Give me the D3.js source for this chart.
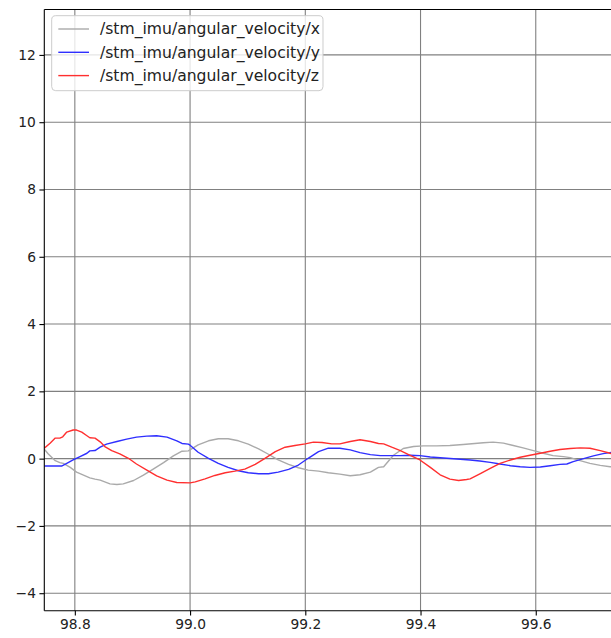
<!DOCTYPE html>
<html>
<head>
<meta charset="utf-8">
<script src="https://cdn.jsdelivr.net/npm/d3@7"></script>
<style>
  body { margin: 0; background: #fff; }
  svg { display: block; font-family: "DejaVu Sans", sans-serif; }
</style>
</head>
<body>
<svg id="chart"></svg>
<script>
// series names (legend)
var seriesNames = ["/stm_imu/angular_velocity/x", "/stm_imu/angular_velocity/y", "/stm_imu/angular_velocity/z"]

// angular velocity x (gray)
var timeX = [98.747, 98.754, 98.766, 98.774, 98.780, 98.792, 98.803, 98.815, 98.826, 98.835, 98.844, 98.861, 98.873, 98.884, 98.902, 98.919, 98.936, 98.954, 98.971, 98.986, 98.997, 99.014, 99.032, 99.049, 99.066, 99.084, 99.101, 99.119, 99.136, 99.153, 99.171, 99.188, 99.205, 99.223, 99.240, 99.260, 99.278, 99.295, 99.313, 99.327, 99.336, 99.353, 99.370, 99.388, 99.405, 99.428, 99.451, 99.474, 99.509, 99.526, 99.544, 99.561, 99.578, 99.596, 99.613, 99.630, 99.648, 99.660, 99.677, 99.694, 99.712, 99.729, 99.745]
var valX = [0.28, 0.14, -0.06, -0.12, -0.14, -0.26, -0.40, -0.49, -0.57, -0.61, -0.64, -0.75, -0.77, -0.75, -0.65, -0.49, -0.31, -0.12, 0.08, 0.22, 0.23, 0.41, 0.53, 0.59, 0.59, 0.53, 0.43, 0.29, 0.13, -0.04, -0.17, -0.27, -0.34, -0.37, -0.42, -0.46, -0.51, -0.48, -0.40, -0.26, -0.24, 0.10, 0.30, 0.36, 0.38, 0.38, 0.39, 0.42, 0.47, 0.49, 0.46, 0.39, 0.32, 0.24, 0.16, 0.09, 0.06, 0.03, -0.06, -0.14, -0.20, -0.24, -0.27]

// angular velocity y (blue)
var timeY = [98.747, 98.777, 98.786, 98.797, 98.809, 98.821, 98.826, 98.835, 98.844, 98.855, 98.873, 98.890, 98.907, 98.925, 98.942, 98.960, 98.977, 98.986, 98.997, 99.000, 99.014, 99.032, 99.049, 99.066, 99.084, 99.101, 99.119, 99.136, 99.153, 99.171, 99.188, 99.205, 99.223, 99.240, 99.260, 99.278, 99.295, 99.313, 99.330, 99.365, 99.382, 99.399, 99.417, 99.440, 99.463, 99.486, 99.503, 99.521, 99.538, 99.556, 99.573, 99.590, 99.608, 99.625, 99.642, 99.654, 99.665, 99.683, 99.700, 99.717, 99.729, 99.745]
var valY = [-0.22, -0.22, -0.14, -0.04, 0.06, 0.16, 0.23, 0.24, 0.34, 0.43, 0.51, 0.58, 0.64, 0.67, 0.68, 0.64, 0.53, 0.45, 0.43, 0.40, 0.19, 0.01, -0.14, -0.26, -0.36, -0.42, -0.45, -0.45, -0.40, -0.32, -0.19, 0.01, 0.21, 0.31, 0.31, 0.26, 0.18, 0.12, 0.09, 0.09, 0.10, 0.09, 0.05, 0.02, -0.01, -0.04, -0.07, -0.11, -0.16, -0.21, -0.24, -0.26, -0.25, -0.21, -0.17, -0.16, -0.09, 0.00, 0.08, 0.15, 0.18, 0.20]

// angular velocity z (red)
var timeZ = [98.747, 98.757, 98.766, 98.774, 98.779, 98.786, 98.797, 98.803, 98.812, 98.821, 98.826, 98.835, 98.844, 98.852, 98.864, 98.878, 98.893, 98.907, 98.925, 98.942, 98.960, 98.977, 99.000, 99.009, 99.026, 99.043, 99.061, 99.078, 99.095, 99.113, 99.130, 99.148, 99.165, 99.182, 99.200, 99.214, 99.229, 99.246, 99.260, 99.278, 99.295, 99.313, 99.327, 99.336, 99.350, 99.365, 99.382, 99.399, 99.417, 99.434, 99.451, 99.466, 99.480, 99.486, 99.503, 99.521, 99.538, 99.556, 99.573, 99.590, 99.608, 99.625, 99.642, 99.660, 99.677, 99.694, 99.712, 99.729, 99.745]
var valZ = [0.31, 0.46, 0.61, 0.61, 0.65, 0.79, 0.85, 0.85, 0.79, 0.68, 0.62, 0.61, 0.50, 0.36, 0.24, 0.14, 0.01, -0.16, -0.34, -0.51, -0.64, -0.71, -0.72, -0.69, -0.60, -0.50, -0.42, -0.37, -0.31, -0.17, 0.01, 0.21, 0.34, 0.39, 0.44, 0.49, 0.48, 0.44, 0.44, 0.51, 0.56, 0.51, 0.45, 0.44, 0.34, 0.24, 0.10, -0.04, -0.26, -0.48, -0.61, -0.65, -0.62, -0.60, -0.45, -0.29, -0.14, -0.04, 0.04, 0.10, 0.16, 0.22, 0.27, 0.30, 0.32, 0.31, 0.24, 0.16, 0.10]

var xTicks = [98.8, 99.0, 99.2, 99.4, 99.6]
var yTicks = [-4, -2, 0, 2, 4, 6, 8, 10, 12]

var dimensions = {
    width: 611,
    height: 638,
    margin: { top: 9.5, bottom: 27.3, left: 44.3, right: -6 }
}

var colors = ["#aaaaaa", "#2f2fff", "#ff2f2f"]

var svg = d3.select("#chart")
    .attr("width", dimensions.width)
    .attr("height", dimensions.height)

var xScale = d3.scaleLinear()
    .domain([98.747, 99.741])
    .range([dimensions.margin.left, dimensions.width - dimensions.margin.right])

var yScale = d3.scaleLinear()
    .domain([-4.52, 13.35])
    .range([dimensions.height - dimensions.margin.bottom, dimensions.margin.top])

var x0 = xScale.range()[0], x1 = xScale.range()[1]
var y0 = yScale.range()[0], y1 = yScale.range()[1]

svg.append("clipPath").attr("id", "plotclip")
    .append("rect")
    .attr("x", x0).attr("y", y1)
    .attr("width", x1 - x0).attr("height", y0 - y1)

// grid
var grid = svg.append("g").attr("stroke", "#808080").attr("stroke-width", 1.1)
grid.selectAll(".vg").data(xTicks).enter().append("line")
    .attr("x1", d => xScale(d)).attr("x2", d => xScale(d))
    .attr("y1", y1).attr("y2", y0)
grid.selectAll(".hg").data(yTicks).enter().append("line")
    .attr("x1", x0).attr("x2", x1)
    .attr("y1", d => yScale(d)).attr("y2", d => yScale(d))

// lines
var lineGen = d3.line()
    .x(d => xScale(d[0]))
    .y(d => yScale(d[1]))

var series = [
    d3.zip(timeX, valX),
    d3.zip(timeY, valY),
    d3.zip(timeZ, valZ)
]

svg.append("g").attr("clip-path", "url(#plotclip)")
    .selectAll("path")
    .data(series)
    .enter()
    .append("path")
    .attr("d", d => lineGen(d))
    .attr("fill", "none")
    .attr("stroke", (d, i) => colors[i])
    .attr("stroke-width", 1.4)
    .attr("stroke-linejoin", "round")

// axes
var minus = d => d3.format(".0f")(d).replace("-", "\u2212")
var yAxisgen = d3.axisLeft(yScale).tickValues(yTicks).tickFormat(minus).tickSize(4.9).tickPadding(3.5)
var xAxisgen = d3.axisBottom(xScale).tickValues(xTicks).tickFormat(d3.format(".1f")).tickSize(4.9).tickPadding(3.5)

var yAxis = svg.append("g")
    .attr("transform", `translate(${x0},0)`)
    .call(yAxisgen)
var xAxis = svg.append("g")
    .attr("transform", `translate(0,${y0})`)
    .call(xAxisgen)

svg.selectAll(".domain").remove()
svg.selectAll(".tick line").attr("stroke", "#000").attr("stroke-width", 1.1)
svg.selectAll(".tick text")
    .attr("fill", "#222")
    .style("font-size", "13.8px")
    .style("font-family", "DejaVu Sans")

// spines
var spines = svg.append("g").attr("stroke", "#000").attr("stroke-width", 1.1)
spines.append("line").attr("x1", x0).attr("x2", x0).attr("y1", y1).attr("y2", y0)
spines.append("line").attr("x1", x0).attr("x2", x1).attr("y1", y0).attr("y2", y0)
spines.append("line").attr("x1", x0).attr("x2", x1).attr("y1", y1).attr("y2", y1)

// legend
var legend = svg.append("g").attr("transform", "translate(51.7,15.7)")
legend.append("rect")
    .attr("width", 271.3).attr("height", 75)
    .attr("rx", 4).attr("ry", 4)
    .attr("fill", "#fff").attr("fill-opacity", 0.8)
    .attr("stroke", "#cccccc").attr("stroke-width", 1)

var items = legend.selectAll(".item")
    .data(seriesNames)
    .enter()
    .append("g")
    .attr("transform", (d, i) => `translate(0,${13.3 + i * 23.3})`)

items.append("line")
    .attr("x1", 6.6).attr("x2", 37.3)
    .attr("stroke", (d, i) => colors[i])
    .attr("stroke-width", 1.4)

items.append("text")
    .attr("x", 48.3)
    .attr("dy", "0.35em")
    .attr("fill", "#222")
    .style("font-size", "15.6px")
    .text(d => d)
</script>
</body>
</html>
